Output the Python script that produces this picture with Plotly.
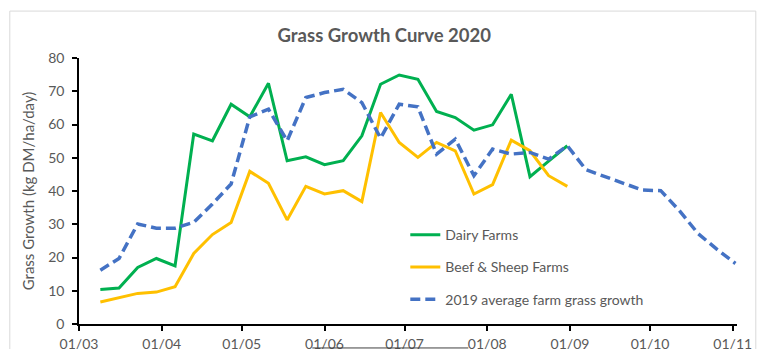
import pandas as pd
import plotly.graph_objects as go

# ---- data ----
dates_2020 = pd.date_range("2020-03-09", periods=26, freq="7D")
dates_2019 = pd.date_range("2020-03-09", periods=35, freq="7D")

dairy = [10.4, 10.8, 17.0, 19.7, 17.5, 57.1, 55.1, 66.1, 62.3, 72.4, 49.1, 50.3, 47.9,
         49.1, 56.6, 72.1, 74.9, 73.6, 63.9, 62.1, 58.3, 59.9, 69.1, 44.3, 49.0, 53.6]
beef = [6.6, 7.9, 9.2, 9.6, 11.2, 21.2, 26.9, 30.5, 45.9, 42.3, 31.3, 41.4, 39.1,
        40.1, 36.8, 63.6, 54.6, 50.1, 54.6, 52.1, 39.1, 41.9, 55.3, 52.1, 44.6, 41.4]
avg2019 = [16.2, 19.7, 30.1, 28.8, 28.8, 30.6, 36.1, 42.1, 62.3, 64.6, 55.1, 68.1, 69.6,
           70.6, 66.6, 55.9, 66.1, 65.3, 51.1, 55.6, 44.6, 52.6, 51.1, 51.6, 49.6, 53.6,
           46.4, 44.3, 42.4, 40.3, 40.1, 34.1, 27.2, 22.5, 18.2]

names = ["Dairy Farms", "Beef & Sheep Farms", "2019 average farm grass growth"]
title_text = "Grass Growth Curve 2020"
y_title = "Grass Growth (kg DM/ha/day)"

FONT = "Lato"
GREY = "#595959"

fig = go.Figure()
fig.add_trace(go.Scatter(x=dates_2020, y=dairy, name=names[0], mode="lines",
                         legendgroup="a", line=dict(color="#00B050", width=3)))
fig.add_trace(go.Scatter(x=dates_2020, y=beef, name=names[1], mode="lines",
                         legendgroup="b", line=dict(color="#FFC000", width=3)))
fig.add_trace(go.Scatter(x=dates_2019, y=avg2019, name=names[2], mode="lines",
                         legendgroup="c", line=dict(color="#4472C4", width=3.5, dash="10px,5px")))

L, R, T, B = 78.7, 25.3, 57.5, 25
W, H = 762, 349
pw = W - L - R
ph = H - T - B

def px_x(p):
    return (p - L) / pw

def px_y(p):
    return (H - B - p) / ph

fig.update_layout(
    width=W, height=H,
    margin=dict(l=L, r=R, t=T, b=B, autoexpand=False),
    paper_bgcolor="white", plot_bgcolor="white",
    font=dict(family=FONT, color=GREY, size=14),
    title=dict(text=title_text, x=px_x(384), xref="paper", xanchor="center",
               y=1 - 36 / H, yanchor="middle",
               font=dict(family=FONT, size=18.5, color=GREY, weight="bold")),
    showlegend=True,
    legend=dict(x=px_x(405), y=px_y(219), xanchor="left", yanchor="top",
                bgcolor="rgba(0,0,0,0)", tracegroupgap=11,
                font=dict(family=FONT, size=14, color=GREY)),
    xaxis=dict(range=["2020-03-01", "2020-11-02 14:00"], tick0="2020-03-01", dtick="M1",
               tickformat="%d/%m", showgrid=False, zeroline=False, automargin=False,
               showline=True, linecolor="black", linewidth=1.5,
               ticks="outside", ticklen=5, tickcolor="black", tickwidth=1.5,
               ticklabelstandoff=1,
               tickfont=dict(family=FONT, size=14, color=GREY)),
    yaxis=dict(range=[0, 80], dtick=10, showgrid=False, zeroline=False, automargin=False,
               showline=True, linecolor="black", linewidth=1.5,
               ticks="outside", ticklen=5, tickcolor="black", tickwidth=1.5,
               ticklabelstandoff=5,
               tickfont=dict(family=FONT, size=14, color=GREY),
               title=dict(text=y_title, standoff=10, font=dict(family=FONT, size=15, color=GREY))),
    shapes=[
        dict(type="rect", xref="paper", yref="paper",
             x0=px_x(9.5), x1=px_x(755.5), y0=px_y(360), y1=px_y(10.5),
             line=dict(color="#d9d9d9", width=1), layer="below"),
        dict(type="line", xref="paper", yref="paper",
             x0=px_x(312), x1=px_x(468), y0=px_y(348), y1=px_y(348),
             line=dict(color="#404040", width=1)),
    ],
)

fig.write_html("out.html")
